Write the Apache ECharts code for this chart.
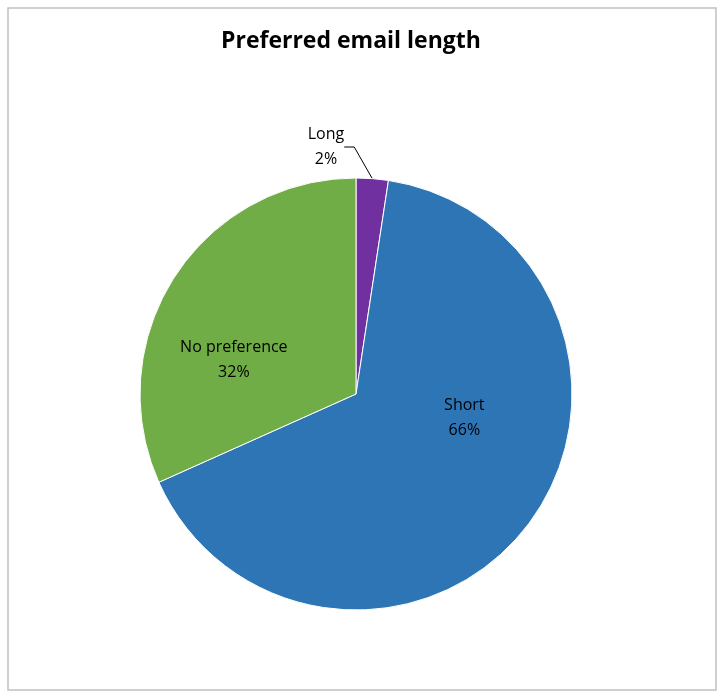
<!DOCTYPE html>
<html>
<head>
<meta charset="utf-8">
<script src="https://cdn.jsdelivr.net/npm/echarts@6/dist/echarts.min.js"></script>
<style>
  html, body { margin: 0; padding: 0; background: #fff; }
  #chart { width: 725px; height: 698px; }
</style>
</head>
<body>
<div id="chart"></div>
<script>
const categories = ['Long', 'Short', 'No preference']
const shares = [2.4, 65.9, 31.7]
const colors = ['#7030a0', '#2e75b6', '#70ad47']

const chart = echarts.init(document.getElementById('chart'))

chart.setOption({
  animation: false,
  title: {
    text: 'Preferred email length',
    left: 216,
    top: 25,
    textStyle: {
      fontFamily: 'Open Sans',
      fontWeight: 'bold',
      fontSize: 23,
      color: '#000'
    }
  },
  graphic: [{
    type: 'rect',
    shape: { x: 8, y: 8, width: 708, height: 682 },
    style: { fill: 'none', stroke: '#c0c0c0', lineWidth: 1.5 },
    silent: true
  }],
  series: [{
    type: 'pie',
    center: [356, 394],
    radius: [0, 216],
    startAngle: 90,
    clockwise: true,
    avoidLabelOverlap: false,
    itemStyle: { borderColor: '#fff', borderWidth: 1 },
    label: {
      position: 'inside',
      fontFamily: 'Open Sans',
      fontSize: 16,
      lineHeight: 25,
      color: '#000',
      formatter: p => p.name + '\n' + Math.round(p.value) + '%'
    },
    labelLine: { show: false },
    labelLayout: function (params) {
      if (params.dataIndex === 1) return { dx: 20, dy: -43 }
      if (params.dataIndex === 2) return { dx: -29, dy: 26 }
      return { x: 326, y: 147, align: 'center', verticalAlign: 'middle' }
    },
    data: categories.map((name, i) => {
      const item = { name: name, value: shares[i], itemStyle: { color: colors[i] } }
      if (i === 0) {
        item.label = { position: 'outside', align: 'center' }
        item.labelLine = {
          show: true,
          length: 12,
          length2: 10,
          lineStyle: { color: '#000', width: 1 }
        }
      }
      return item
    })
  }]
})
</script>
</body>
</html>
